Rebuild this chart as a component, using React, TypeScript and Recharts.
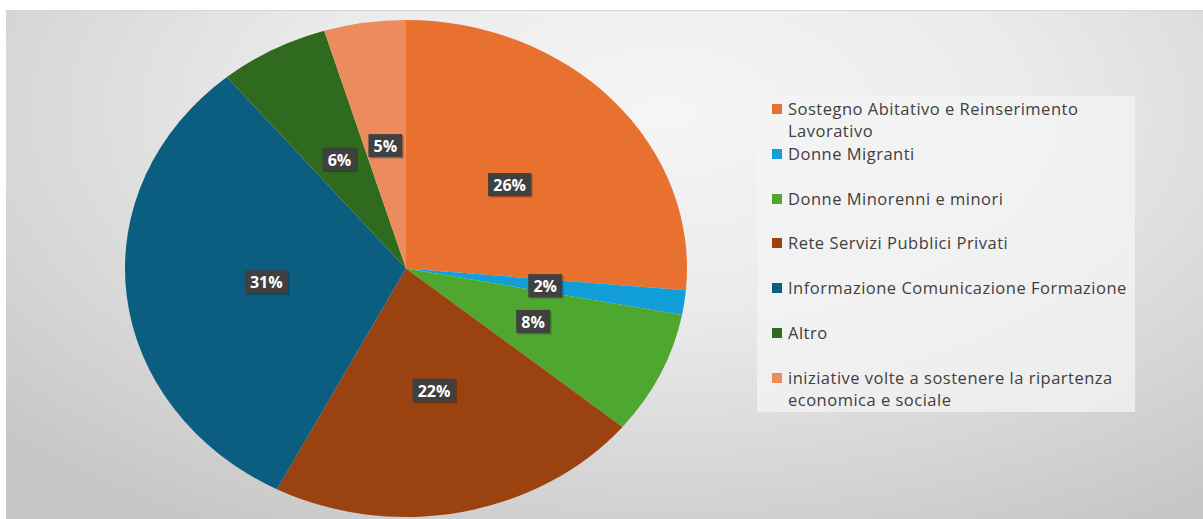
import React from 'react';
import { PieChart, Pie, Cell, Legend } from 'recharts';

const categories = [
  'Sostegno Abitativo e Reinserimento Lavorativo',
  'Donne Migranti',
  'Donne Minorenni e minori',
  'Rete Servizi Pubblici Privati',
  'Informazione Comunicazione Formazione',
  'Altro',
  'iniziative volte a sostenere la ripartenza economica e sociale',
];
const values = [26.4, 1.6, 8.0, 21.6, 31.4, 6.3, 4.7];
const colors = ['#E8712F', '#129FD8', '#4EA72E', '#9A4210', '#0B5E7F', '#2F6A1E', '#EC8B5B'];

const data = categories.map((name, i) => ({ name, value: values[i] }));

const W = 1203;
const H = 519;
const CX = 406;
const CY = 268.5;
const RY = 248.5;
const RX_SCALE = 281 / 248.5;
const RAD = Math.PI / 180;

const EllipseSector = (props: any) => {
  const { cx, cy, outerRadius, startAngle, endAngle, fill } = props;
  const rx = outerRadius * RX_SCALE;
  const ry = outerRadius;
  const p = (a: number) => [cx + rx * Math.cos(a * RAD), cy - ry * Math.sin(a * RAD)];
  const [x1, y1] = p(startAngle);
  const [x2, y2] = p(endAngle);
  const span = Math.abs(endAngle - startAngle);
  const large = span > 180 ? 1 : 0;
  const sweep = startAngle > endAngle ? 1 : 0;
  const d = `M${cx},${cy} L${x1},${y1} A${rx},${ry} 0 ${large} ${sweep} ${x2},${y2} Z`;
  return <path d={d} fill={fill} stroke="none" />;
};

const renderLabel = (props: any) => {
  const { cx, cy, midAngle, outerRadius, percent } = props;
  const rx = outerRadius * RX_SCALE * 0.5;
  const ry = outerRadius * 0.5;
  const x = cx + rx * Math.cos(midAngle * RAD);
  const y = cy - ry * Math.sin(midAngle * RAD);
  const txt = `${Math.round(percent * 100)}%`;
  const digits = txt.length - 1;
  const w = 10 + digits * 9.3 + 14.5;
  const h = 23;
  return (
    <g>
      <rect x={x - w / 2 + 1.5} y={y - h / 2 + 1.5} width={w} height={h} fill="rgba(0,0,0,0.25)" />
      <rect x={x - w / 2} y={y - h / 2} width={w} height={h} fill="#404040" />
      <text
        x={x}
        y={y + 0.5}
        textAnchor="middle"
        dominantBaseline="central"
        fill="#ffffff"
        fontFamily="'Open Sans', sans-serif"
        fontWeight={700}
        fontSize={16}
      >
        {txt}
      </text>
    </g>
  );
};

const renderLegend = (props: any) => {
  const payload: any[] = (props && props.payload) || [];
  const items = categories.map((c, i) => {
    const found = payload.find((p: any) => p.value === c);
    return { value: c, color: (found && found.color) || colors[i] };
  });
  return (
    <div style={{ position: 'relative', width: 378, height: 316, background: 'rgba(244,244,244,0.75)' }}>
      {items.map((entry, i) => (
        <div
          key={i}
          style={{
            position: 'absolute',
            left: 15,
            top: 13 - 11 + i * 44.83,
            display: 'flex',
            alignItems: 'flex-start',
          }}
        >
          <div style={{ width: 10, height: 10, marginTop: 6, background: entry.color, flex: 'none' }} />
          <div
            style={{
              marginLeft: 6,
              width: 350,
              fontFamily: "'Open Sans', sans-serif",
              fontSize: 16.5,
              letterSpacing: 0.5,
              lineHeight: '22px',
              color: '#404040',
              textAlign: 'left',
            }}
          >
            {entry.value}
          </div>
        </div>
      ))}
    </div>
  );
};

export default function App() {
  return (
    <div style={{ position: 'absolute', left: 0, top: 0, width: W, height: H, background: '#ffffff', overflow: 'hidden' }}>
      <div
        style={{
          position: 'absolute',
          left: 6,
          top: 10,
          width: W - 6,
          height: H - 10,
          borderTop: '1px solid #d6d6d6',
          background: 'radial-gradient(ellipse 75% 95% at 55% 20%, #f5f5f5 0%, #ebebeb 40%, #d6d6d6 75%, #c6c6c6 100%)',
        }}
      />
      <div style={{ position: 'absolute', left: 0, top: 0 }}>
        <PieChart width={W} height={H} margin={{ top: 0, right: 0, bottom: 0, left: 0 }}>
          <Pie
            data={data}
            dataKey="value"
            nameKey="name"
            cx={CX}
            cy={CY}
            outerRadius={RY}
            startAngle={90}
            endAngle={-270}
            stroke="none"
            isAnimationActive={false}
            labelLine={false}
            label={renderLabel}
            shape={EllipseSector}
            activeShape={EllipseSector}
            inactiveShape={EllipseSector}
          >
            {data.map((d, i) => (
              <Cell key={d.name} fill={colors[i]} />
            ))}
          </Pie>
          <Legend
            layout="vertical"
            content={renderLegend}
            wrapperStyle={{ position: 'absolute', left: 757, top: 96, width: 378, height: 316 }}
          />
        </PieChart>
      </div>
    </div>
  );
}
